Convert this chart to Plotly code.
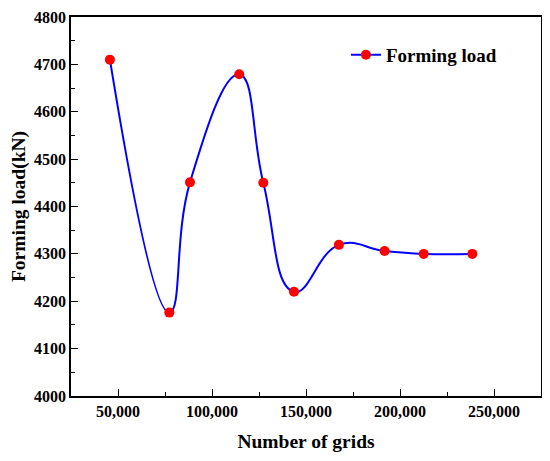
import plotly.graph_objects as go

# forming load vs mesh size
grids = [45700, 77300, 88300, 114500, 127300, 143600, 167500, 191800, 212600, 238500]
load = [4710, 4176, 4451, 4679, 4450, 4220, 4319, 4306, 4300, 4300]

serif = "Liberation Serif, Times New Roman, serif"

fig = go.Figure()
fig.add_trace(go.Scatter(
    x=grids, y=load, name="Forming load", mode="lines+markers",
    line=dict(color="#0000FF", width=2, shape="spline", smoothing=1.3),
    marker=dict(color="#FF0000", size=10),
))

axis_common = dict(
    showline=True, linecolor="black", linewidth=1.5, mirror=True,
    ticks="inside", ticklen=7, tickwidth=1.2, tickcolor="black",
    showgrid=False, zeroline=False, automargin=False,
    tickfont=dict(family=serif, size=16, color="black", weight="bold"),
)

fig.update_xaxes(
    range=[25000, 275000], tick0=50000, dtick=50000, tickformat=",d",
    minor=dict(ticks="inside", ticklen=4, tickcolor="black", dtick=25000, tick0=25000),
    title=dict(text="Number of grids", font=dict(family=serif, size=19.5, color="black", weight="bold"),
               standoff=15),
    **axis_common,
)
fig.update_yaxes(
    range=[4000, 4800], dtick=100,
    minor=dict(ticks="inside", ticklen=4, tickcolor="black", dtick=50),
    title=dict(text="Forming load(kN)", font=dict(family=serif, size=19.5, color="black", weight="bold"),
               standoff=8),
    **axis_common,
)

# page body adds an 8px offset, so the figure is a bit smaller than the window
fig.update_layout(
    width=542, height=453,
    margin=dict(l=63, r=9, t=9, b=65),
    plot_bgcolor="white", paper_bgcolor="white",
    showlegend=True,
    legend=dict(x=0.585, y=0.90, xanchor="left", yanchor="middle",
                bgcolor="rgba(0,0,0,0)",
                font=dict(family=serif, size=19, color="black", weight="bold")),
)

fig.write_html("out.html")
